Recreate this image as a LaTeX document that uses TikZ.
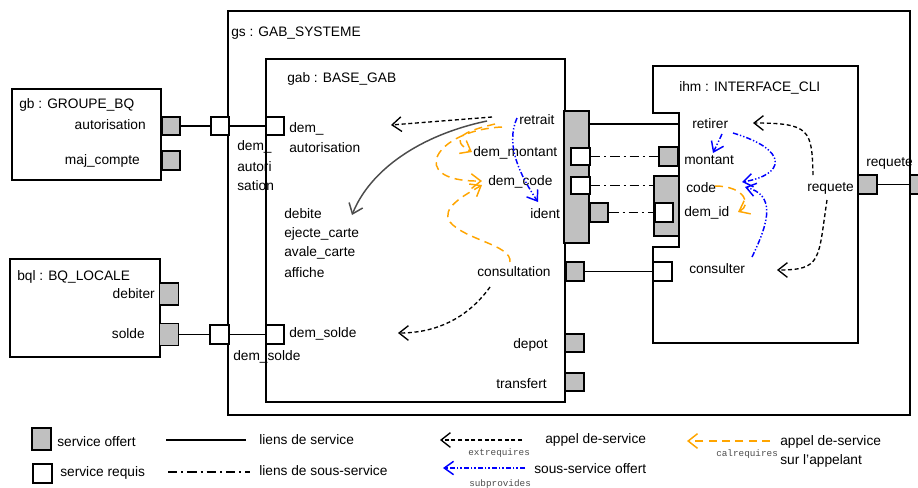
\documentclass[tikz,border=0pt]{standalone}
\usepackage{fontspec}
\setmainfont{Liberation Sans}
\setmonofont{Liberation Mono}
\usetikzlibrary{arrows.meta}

\definecolor{calorange}{RGB}{255,165,0}
\definecolor{portgray}{RGB}{192,192,192}

\tikzset{
	comp/.style={draw, line width=1.3pt, fill=white, inner sep=0},
	offert/.style={draw, line width=1.3pt, fill=portgray, inner sep=0, minimum width=14pt, minimum height=14pt},
	requis/.style={draw, line width=1.3pt, fill=white, inner sep=0, minimum width=14pt, minimum height=14pt},
	lbl/.style={inner sep=0, anchor=west},
	rlbl/.style={inner sep=0, anchor=east},
	lien/.style={line width=1.2pt},
	souslien/.style={line width=1.2pt, dash pattern=on 7pt off 3pt on 1.5pt off 3pt},
	extreq/.style={line width=1pt, dash pattern=on 3pt off 2pt, -{Straight Barb[length=7pt,width=11pt]}},
	calreq/.style={calorange, line width=1.1pt, dash pattern=on 6pt off 4pt, -{Straight Barb[length=7pt,width=11pt]}},
	subprov/.style={blue, line width=1.1pt, dash pattern=on 4pt off 1.5pt on 1pt off 1.5pt on 1pt off 1.5pt, -{Straight Barb[length=7pt,width=10pt]}},
	tiny/.style={inner sep=0, anchor=west, font=\fontsize{7}{8}\selectfont\ttfamily, text=black!70}
}

\begin{document}
\begin{tikzpicture}[x=0.75pt, y=-0.75pt, font=\fontsize{10.3}{12}\selectfont]
	\useasboundingbox (0,0) rectangle (918,487);

	% composants
	\node[comp, minimum width=511.5pt, minimum height=303pt] (gs) at (569,213) {};
	\node[comp, minimum width=111.75pt, minimum height=68.25pt] (gb) at (86.5,134.5) {};
	\node[comp, minimum width=112.5pt, minimum height=73.5pt] (bql) at (85,308) {};
	\node[comp, minimum width=224.25pt, minimum height=257.25pt] (gab) at (415.5,230.5) {};
	\draw[comp] (653,66) -- (858,66) -- (858,343) -- (653,343) -- (653,247)
		-- (679,247) -- (679,113) -- (653,113) -- cycle;

	\node[lbl] (gsname) at (231,33) {gs : GAB\_SYSTEME};
	\node[lbl] (gbname) at (19,105) {gb : GROUPE\_BQ};
	\node[lbl] (bqlname) at (17,277) {bql : BQ\_LOCALE};
	\node[lbl] (gabname) at (287,79) {gab : BASE\_GAB};
	\node[lbl] (ihmname) at (679,88) {ihm : INTERFACE\_CLI};

	% ports
	\node[offert] (gbaut) at (171,126) {};
	\node[offert] (gbmaj) at (171,160.5) {};
	\node[offert, minimum width=14.25pt, minimum height=16.5pt] (bqldeb) at (169,294) {};
	\node[offert, minimum width=14.25pt, minimum height=16.5pt] (bqlsol) at (169,334.5) {};
	\node[requis] (gsaut) at (220,126) {};
	\node[requis] (gssol) at (219.5,334.5) {};
	\node[requis] (gabaut) at (275,126) {};
	\node[requis] (gabsol) at (275,334.5) {};
	\node[offert, minimum width=18.75pt, minimum height=99pt] (gabbig) at (576.5,177) {};
	\node[requis, minimum width=14.25pt, minimum height=12.75pt] (dmont) at (580.5,156.5) {};
	\node[requis, minimum width=14.25pt, minimum height=12.75pt] (dcode) at (580.5,185.5) {};
	\node[offert] (ident) at (599,212.5) {};
	\node[offert] (consult) at (575,271.5) {};
	\node[offert] (depot) at (574.5,343) {};
	\node[offert] (transf) at (574.5,382) {};
	\node[offert] (montant) at (668.5,156.5) {};
	\node[offert, minimum width=18.75pt, minimum height=45pt] (code) at (666.5,206) {};
	\node[requis] (demid) at (664,212.5) {};
	\node[requis] (consulter) at (662.5,271.5) {};
	\node[offert] (ihmreq) at (867.5,184.5) {};
	\node[offert] (gsreq) at (919,184.5) {};
	\coordinate (retirerpt) at (679,124);

	% liens
	\draw[lien] (gbaut) -- (gsaut);
	\draw[lien] (gsaut) -- (gabaut);
	\draw[lien] (bqlsol) -- (gssol);
	\draw[lien] (gssol) -- (gabsol);
	\draw[lien] (gabbig.east |- retirerpt) -- (retirerpt);
	\draw[lien] (consult) -- (consulter);
	\draw[lien] (ihmreq) -- (gsreq);
	\draw[souslien] (dmont) -- (montant);
	\draw[souslien] (dcode.east) -- (dcode.east -| code.west);
	\draw[souslien] (ident) -- (demid);

	% textes
	\node[rlbl] (lgbaut) at (146,125) {autorisation};
	\node[rlbl] (lgbmaj) at (140,161) {maj\_compte};
	\node[rlbl] (lbqldeb) at (155,294) {debiter};
	\node[rlbl] (lbqlsol) at (145,334) {solde};
	\node[lbl] (lgsaut1) at (237,147) {dem\_};
	\node[lbl] (lgsaut2) at (237,167) {autori};
	\node[lbl] (lgsaut3) at (237,186) {sation};
	\node[lbl] (lgssol) at (233,357) {dem\_solde};
	\node[lbl] (lgabaut1) at (289,129) {dem\_};
	\node[lbl] (lgabaut2) at (289,148) {autorisation};
	\node[lbl] (ldebite) at (284,214) {debite};
	\node[lbl] (lejecte) at (284,234) {ejecte\_carte};
	\node[lbl] (lavale) at (284,253) {avale\_carte};
	\node[lbl] (laffiche) at (284,273) {affiche};
	\node[lbl] (lgabsol) at (289,334) {dem\_solde};
	\node[lbl] (lretrait) at (519,120) {retrait};
	\node[lbl] (ldmont) at (473,153) {dem\_montant};
	\node[lbl] (ldcode) at (488,182) {dem\_code};
	\node[lbl] (lident) at (530,214) {ident};
	\node[lbl] (lconsult) at (477,272) {consultation};
	\node[lbl] (ldepot) at (513,345) {depot};
	\node[lbl] (ltransf) at (496,384) {transfert};
	\node[lbl] (lretirer) at (692,124) {retirer};
	\node[lbl] (lmontant) at (684,160) {montant};
	\node[lbl] (lcode) at (686,188) {code};
	\node[lbl] (ldemid) at (684,213) {dem\_id};
	\node[lbl] (lconsulter) at (689,269) {consulter};
	\node[lbl] (lreqin) at (807,188) {requete};
	\node[lbl] (lreqout) at (866,163) {requete};

	% appels dans gab
	\coordinate (a1) at (492,117);   \coordinate (b1) at (391,125);
	\coordinate (a2) at (487,121);   \coordinate (b2) at (352,215);
	\coordinate (a3) at (502,127);   \coordinate (b3) at (482,181);
	\coordinate (a4) at (495,124);   \coordinate (b4) at (472,152);
	\coordinate (a5) at (510,262);   \coordinate (b5) at (482,185);
	\coordinate (a6) at (517,118);   \coordinate (b6) at (538,202);
	\coordinate (a7) at (490,287);   \coordinate (b7) at (398,333);
	\draw[extreq] (a1) -- (b1);
	\draw[line width=1.1pt, black!70, -{Straight Barb[length=7pt,width=11pt]}] (a2) .. controls (420,135) and (370,170) .. (b2);
	\draw[calreq] (a3) .. controls (435,130) and (405,182) .. (b3);
	\draw[calreq] (a4) .. controls (460,132) and (450,140) .. (b4);
	\draw[calreq] (a5) .. controls (512,245) and (465,240) .. (450,222) .. controls (440,208) and (465,195) .. (b5);
	\draw[subprov] (a6) .. controls (505,145) and (520,175) .. (b6);
	\draw[extreq] (a7) .. controls (470,315) and (440,333) .. (b7);

	% appels dans ihm
	\coordinate (c1) at (813,175);   \coordinate (d1) at (753,123);
	\coordinate (c2) at (827,200);   \coordinate (d2) at (777,270);
	\coordinate (c3) at (733,133);   \coordinate (d3) at (742,182);
	\coordinate (c4) at (752,257);   \coordinate (d4) at (745,187);
	\coordinate (c5) at (722,134);   \coordinate (d5) at (713,153);
	\coordinate (c6) at (715,186);   \coordinate (d6) at (738,212);
	\draw[extreq] (c1) .. controls (812,130) and (810,123) .. (d1);
	\draw[extreq] (c2) .. controls (818,260) and (822,270) .. (d2);
	\draw[subprov] (c3) .. controls (790,150) and (785,175) .. (d3);
	\draw[subprov] (c4) .. controls (770,220) and (775,195) .. (d4);
	\draw[subprov] (c5) -- (d5);
	\draw[calreq] (c6) .. controls (745,186) and (752,205) .. (d6);

	% legende
	\node[offert, minimum width=14.25pt, minimum height=16.5pt] (legoff) at (41.5,439) {};
	\node[requis] (legreq) at (42.5,473.5) {};
	\node[lbl] (llegoff) at (57,442) {service offert};
	\node[lbl] (llegreq) at (60,473) {service requis};
	\coordinate (e1) at (166,440);   \coordinate (f1) at (246,440);
	\coordinate (e2) at (168,472);   \coordinate (f2) at (250,472);
	\draw[lien] (e1) -- (f1);
	\draw[souslien] (e2) -- (f2);
	\node[lbl] (llien) at (259,440) {liens de service};
	\node[lbl] (lsouslien) at (259,471) {liens de sous-service};
	\coordinate (e3) at (522,440);   \coordinate (f3) at (440,440);
	\coordinate (e4) at (525,468);   \coordinate (f4) at (443,468);
	\coordinate (e5) at (770,441);   \coordinate (f5) at (687,441);
	\draw[extreq] (e3) -- (f3);
	\draw[subprov] (e4) -- (f4);
	\draw[calreq] (e5) -- (f5);
	\node[lbl] (lappel) at (545,440) {appel de-service};
	\node[tiny] (lext) at (468,453) {extrequires};
	\node[lbl] (lsousoff) at (534,469) {sous-service offert};
	\node[tiny] (lsub) at (469,484) {subprovides};
	\node[tiny] (lcal) at (716,454) {calrequires};
	\node[lbl] (lappel2) at (780,442) {appel de-service};
	\node[lbl] (lappel3) at (780,461) {sur l'appelant};
\end{tikzpicture}
\end{document}
